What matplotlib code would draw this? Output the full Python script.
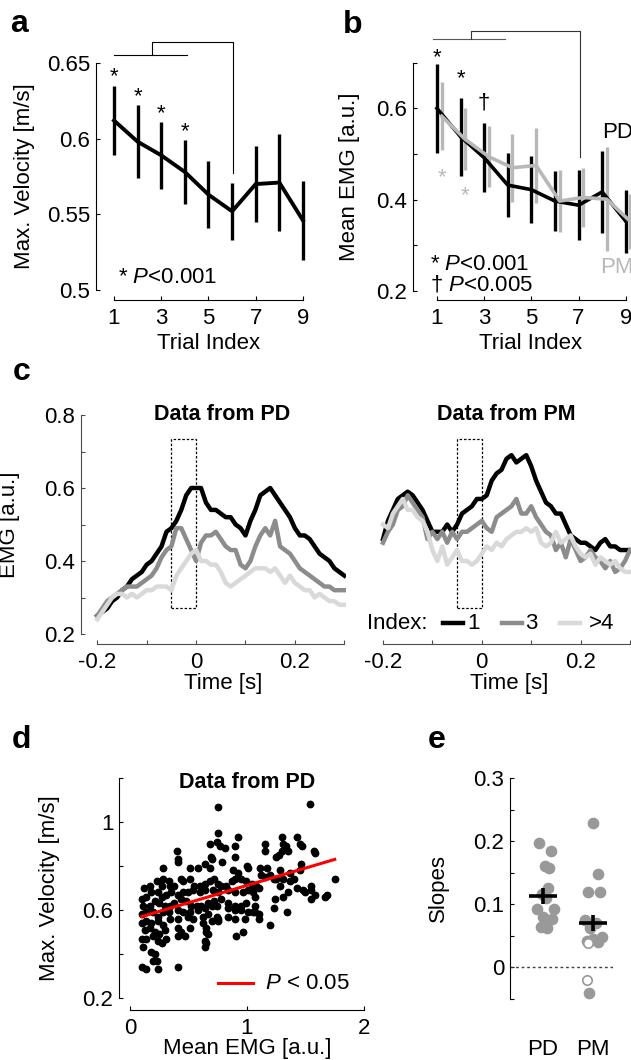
import matplotlib
matplotlib.use('Agg')
import matplotlib.pyplot as plt
import numpy as np
from matplotlib.patches import Rectangle

plt.rcParams['font.family'] = ['Liberation Sans', 'DejaVu Sans']
plt.rcParams['mathtext.fontset'] = 'custom'
plt.rcParams['mathtext.rm'] = 'Liberation Sans'
plt.rcParams['mathtext.it'] = 'Liberation Sans:italic'
plt.rcParams['font.size'] = 16
plt.rcParams['xtick.direction'] = 'in'
plt.rcParams['ytick.direction'] = 'in'
plt.rcParams['xtick.major.size'] = 3
plt.rcParams['ytick.major.size'] = 3
plt.rcParams['axes.linewidth'] = 0.8

# ---------------- data ----------------
trials = np.arange(1, 10)

# a: max velocity per trial
vel_mean = [0.612, 0.598, 0.589, 0.578, 0.563, 0.552, 0.570, 0.571, 0.546]
vel_err = [0.023, 0.024, 0.022, 0.021, 0.022, 0.019, 0.025, 0.032, 0.026]
vel_sig = [1, 2, 3, 4]

# b: mean EMG per trial
emg_pd_mean = [0.600, 0.538, 0.492, 0.432, 0.422, 0.397, 0.388, 0.417, 0.353]
emg_pd_err = [0.097, 0.085, 0.075, 0.070, 0.073, 0.066, 0.076, 0.089, 0.069]
emg_pm_mean = [0.583, 0.532, 0.494, 0.470, 0.475, 0.397, 0.405, 0.401, 0.352]
emg_pm_err = [0.074, 0.068, 0.067, 0.075, 0.083, 0.068, 0.064, 0.114, 0.060]
pd_marks = [(1, '*', 0.700), (2, '*', 0.652), (3, '\u2020', 0.600)]
pm_marks = [(1, '*', 0.436), (2, '*', 0.397)]

# c: EMG traces, time in s
t = np.linspace(-0.2, 0.3, 51)
pd_idx1 = [0.25, 0.26, 0.27, 0.29, 0.30, 0.32, 0.33, 0.35, 0.36, 0.37, 0.39, 0.40, 0.42,
           0.44, 0.48, 0.49, 0.51, 0.54, 0.58, 0.60, 0.60, 0.60, 0.56, 0.54, 0.54, 0.53,
           0.52, 0.52, 0.50, 0.49, 0.47, 0.51, 0.54, 0.58, 0.59, 0.60, 0.58, 0.56, 0.54,
           0.52, 0.49, 0.47, 0.47, 0.46, 0.44, 0.42, 0.41, 0.40, 0.38, 0.37, 0.36]
pd_idx3 = [0.25, 0.27, 0.29, 0.30, 0.31, 0.32, 0.33, 0.33, 0.33, 0.34, 0.35, 0.36, 0.38,
           0.41, 0.43, 0.44, 0.49, 0.49, 0.46, 0.43, 0.40, 0.45, 0.47, 0.47, 0.48, 0.46,
           0.44, 0.43, 0.43, 0.39, 0.38, 0.40, 0.44, 0.47, 0.49, 0.47, 0.51, 0.44, 0.43,
           0.42, 0.40, 0.38, 0.37, 0.36, 0.35, 0.34, 0.33, 0.33, 0.32, 0.32, 0.32]
pd_idx4 = [0.24, 0.26, 0.28, 0.30, 0.31, 0.31, 0.30, 0.31, 0.30, 0.31, 0.32, 0.32, 0.33,
           0.33, 0.33, 0.32, 0.36, 0.38, 0.40, 0.42, 0.43, 0.40, 0.40, 0.39, 0.39, 0.37,
           0.34, 0.33, 0.34, 0.35, 0.36, 0.37, 0.38, 0.38, 0.38, 0.37, 0.38, 0.36, 0.34,
           0.36, 0.34, 0.33, 0.32, 0.32, 0.30, 0.31, 0.30, 0.29, 0.29, 0.28, 0.28]
pm_idx1 = [0.46, 0.51, 0.54, 0.57, 0.58, 0.59, 0.58, 0.56, 0.54, 0.51, 0.48, 0.48, 0.48,
           0.50, 0.48, 0.50, 0.53, 0.54, 0.55, 0.57, 0.57, 0.58, 0.62, 0.64, 0.65, 0.68,
           0.69, 0.67, 0.68, 0.69, 0.66, 0.62, 0.59, 0.56, 0.55, 0.53, 0.53, 0.50, 0.47,
           0.46, 0.45, 0.45, 0.44, 0.43, 0.45, 0.46, 0.44, 0.44, 0.43, 0.43, 0.43]
pm_idx3 = [0.45, 0.48, 0.50, 0.54, 0.55, 0.58, 0.56, 0.54, 0.52, 0.46, 0.48, 0.46, 0.48,
           0.45, 0.48, 0.46, 0.48, 0.48, 0.49, 0.50, 0.51, 0.49, 0.48, 0.52, 0.53, 0.54,
           0.55, 0.57, 0.53, 0.53, 0.55, 0.52, 0.50, 0.48, 0.47, 0.43, 0.45, 0.41, 0.46,
           0.43, 0.40, 0.41, 0.43, 0.41, 0.40, 0.38, 0.40, 0.37, 0.38, 0.40, 0.43]
pm_idx4 = [0.50, 0.49, 0.53, 0.55, 0.57, 0.54, 0.54, 0.52, 0.51, 0.48, 0.43, 0.40, 0.44,
           0.39, 0.41, 0.43, 0.40, 0.40, 0.39, 0.40, 0.42, 0.44, 0.43, 0.45, 0.44, 0.46,
           0.47, 0.48, 0.48, 0.49, 0.48, 0.49, 0.45, 0.44, 0.45, 0.48, 0.45, 0.46, 0.47,
           0.44, 0.42, 0.41, 0.42, 0.39, 0.41, 0.40, 0.39, 0.40, 0.38, 0.37, 0.37]
win = (-0.05, 0.0, 0.27, 0.735)  # analysis window: t0, t1, v0, v1

# d: max velocity vs mean EMG (PD)
emg_x = [0.75, 0.75, 0.68, 0.74, 0.77, 0.81, 0.92, 0.90, 0.90, 0.40, 0.41, 0.41, 0.28, 0.51,
         0.58, 0.64, 0.68, 0.69, 0.70, 0.79, 0.88, 0.92, 1.00, 1.01,
         0.12, 0.17, 0.23, 0.28, 0.33, 0.27, 0.34, 0.38, 0.44, 0.45, 0.51, 0.55, 0.60, 0.64,
         0.68, 0.72, 0.75, 0.78, 0.82, 0.87, 0.90, 0.95, 0.99, 1.04, 1.08,
         0.10, 0.14, 0.18, 0.24, 0.27, 0.31, 0.35, 0.41, 0.45, 0.50, 0.54, 0.60, 0.64, 0.71,
         0.75, 0.84, 0.90, 0.97, 1.01, 1.05,
         0.11, 0.17, 0.21, 0.25, 0.30, 0.34, 0.38, 0.44, 0.48, 0.52, 0.57, 0.61, 0.67, 0.72,
         0.78, 0.84, 0.90, 0.95, 0.99, 1.07,
         0.10, 0.14, 0.20, 0.24, 0.28, 0.33, 0.41, 0.45, 0.51, 0.58, 0.64, 0.70, 0.74, 0.84,
         0.90, 0.95, 1.01, 1.07,
         0.10, 0.14, 0.18, 0.24, 0.28, 0.34, 0.41, 0.50, 0.54, 0.62, 0.67, 0.74, 0.75, 0.84,
         0.90, 0.98,
         0.13, 0.17, 0.21, 0.25, 0.30, 0.41, 0.44, 0.51, 0.62, 0.65, 0.70, 0.75,
         0.10, 0.14, 0.20, 0.24, 0.27, 0.31, 0.41, 0.47, 0.65, 0.67, 0.64, 0.65, 0.97, 0.91,
         0.11, 0.18, 0.21, 0.23, 0.20, 0.64, 0.10, 0.14, 0.24, 0.41,
         1.54, 1.30, 1.43, 1.15, 1.31, 1.33, 1.35, 1.30, 1.27, 1.45, 1.47, 1.15, 1.25, 1.57,
         1.58, 1.46, 1.45, 1.28, 1.11, 1.17, 1.12, 1.15, 1.20, 1.23, 1.25, 1.31, 1.37, 1.40,
         1.75, 1.05, 1.10, 1.28, 1.37, 1.43, 1.48, 1.55, 1.55, 1.58, 1.50, 1.68, 1.67, 1.55,
         1.31, 1.35, 1.24, 1.07, 1.23, 1.05, 1.10, 1.34, 1.10, 1.20]
vel_y = [1.07, 0.95, 0.90, 0.91, 0.89, 0.88, 0.93, 0.89, 0.84, 0.87, 0.83, 0.82, 0.79, 0.79,
         0.79, 0.81, 0.79, 0.84, 0.83, 0.82, 0.78, 0.77, 0.80, 0.79,
         0.70, 0.71, 0.73, 0.74, 0.73, 0.71, 0.71, 0.71, 0.74, 0.73, 0.74, 0.71, 0.71, 0.72,
         0.73, 0.74, 0.72, 0.71, 0.71, 0.73, 0.74, 0.74, 0.73, 0.72, 0.71,
         0.65, 0.66, 0.68, 0.68, 0.66, 0.67, 0.68, 0.67, 0.68, 0.68, 0.69, 0.68, 0.69, 0.69,
         0.68, 0.69, 0.68, 0.68, 0.69, 0.68,
         0.62, 0.62, 0.64, 0.63, 0.62, 0.62, 0.63, 0.65, 0.64, 0.62, 0.62, 0.62, 0.63, 0.64,
         0.65, 0.63, 0.62, 0.62, 0.63, 0.62,
         0.58, 0.59, 0.59, 0.57, 0.59, 0.59, 0.60, 0.59, 0.59, 0.60, 0.61, 0.62, 0.62, 0.61,
         0.60, 0.60, 0.59, 0.59,
         0.54, 0.55, 0.54, 0.55, 0.53, 0.56, 0.56, 0.57, 0.56, 0.57, 0.58, 0.57, 0.55, 0.57,
         0.56, 0.56,
         0.51, 0.52, 0.50, 0.49, 0.51, 0.52, 0.50, 0.52, 0.54, 0.52, 0.55, 0.56,
         0.47, 0.47, 0.48, 0.46, 0.45, 0.47, 0.48, 0.48, 0.50, 0.49, 0.46, 0.45, 0.50, 0.48,
         0.43, 0.41, 0.40, 0.37, 0.37, 0.43, 0.34, 0.33, 0.33, 0.34,
         1.08, 0.93, 0.93, 0.90, 0.90, 0.89, 0.87, 0.87, 0.85, 0.90, 0.89, 0.87, 0.84, 0.87,
         0.86, 0.81, 0.78, 0.78, 0.79, 0.79, 0.76, 0.75, 0.76, 0.74, 0.74, 0.74, 0.77, 0.74,
         0.74, 0.70, 0.70, 0.71, 0.73, 0.70, 0.69, 0.71, 0.69, 0.67, 0.68, 0.67, 0.66, 0.65,
         0.66, 0.68, 0.65, 0.66, 0.61, 0.59, 0.58, 0.59, 0.56, 0.53]
fit_x = [0.10, 1.75]
fit_y = [0.57, 0.83]

# e: slopes per subject
groups = ['PD', 'PM']
pd_slopes = [0.197, 0.185, 0.160, 0.158, 0.125, 0.116, 0.110, 0.093, 0.092, 0.080, 0.077,
             0.072, 0.064, 0.062]
pd_jit = [-0.09, 0.15, 0.04, 0.11, 0.09, -0.03, 0.05, -0.13, 0.21, 0.00, 0.17, 0.07, -0.04, 0.07]
pm_slopes = [0.229, 0.148, 0.120, 0.120, 0.075, 0.070, 0.062, 0.048, 0.045, 0.042, 0.040, -0.041]
pm_jit = [-0.01, 0.10, -0.10, 0.13, -0.17, 0.05, -0.07, 0.17, 0.00, -0.13, 0.10, -0.08]
pm_open = [0.038, -0.020]
pm_open_jit = [-0.10, -0.12]
slope_means = [0.113, 0.071]

# ---------------- figure ----------------
W, H = 631, 1060
fig = plt.figure(figsize=(W / 100, H / 100), dpi=100)


def add_ax(l, r, top, bot):
    return fig.add_axes([l / W, 1 - bot / H, (r - l) / W, (bot - top) / H])


def frame(ax, xb, yb, off, color='k'):
    ax.spines['top'].set_visible(False)
    ax.spines['right'].set_visible(False)
    ax.spines['bottom'].set_position(('outward', off * 0.72))
    if xb:
        ax.spines['bottom'].set_bounds(*xb)
    if yb:
        ax.spines['left'].set_bounds(*yb)
    for s in ('bottom', 'left'):
        ax.spines[s].set_color(color)
    ax.tick_params(color=color, pad=4)
    ax.tick_params(axis='x', pad=6)


def letter(x, y, s):
    fig.text(x / W, 1 - y / H, s, fontsize=23, fontweight='bold', ha='left', va='baseline')


gray_pm = '0.72'

# ---- a ----
axA = add_ax(96, 306.5, 63, 290)
axA.errorbar(trials, vel_mean, yerr=vel_err, color='k', lw=2.8, elinewidth=2.4, capsize=0)
axA.set_xlim(0.238, 9.15)
axA.set_ylim(0.5, 0.65)
frame(axA, (1, 9), (0.5, 0.65), 10)
axA.set_xticks([1, 3, 5, 7, 9])
axA.set_yticks([0.5, 0.55, 0.6, 0.65])
axA.set_yticklabels(['0.5', '0.55', '0.6', '0.65'])
for i in vel_sig:
    axA.text(i, vel_mean[i - 1] + vel_err[i - 1] + 0.002, '*', ha='center', va='baseline')
axA.plot([1, 4.1], [0.6553, 0.6553], color='k', lw=0.8, clip_on=False)
axA.plot([2.6, 2.6, 6.03, 6.03], [0.6553, 0.6639, 0.6639, 0.577], color='k', lw=0.8, clip_on=False)
axA.text(0.105, 0.057, '* $P$<0.001', transform=axA.transAxes, ha='left', va='center')
axA.set_ylabel('Max. Velocity [m/s]')
axA.yaxis.set_label_coords(-0.29, 0.5)
axA.set_xlabel('Trial Index')
axA.xaxis.set_label_coords(0.537, -0.19)
letter(10, 32, 'a')

# ---- b ----
axB = add_ax(413, 634, 62.75, 291)
axB.errorbar(trials, emg_pd_mean, yerr=emg_pd_err, color='k', lw=2.6, elinewidth=2.4, capsize=0)
axB.errorbar(trials + 0.2, emg_pm_mean, yerr=emg_pm_err, color=gray_pm, lw=2.6, elinewidth=2.4,
             capsize=0)
axB.set_xlim(-0.016, 9.35)
axB.set_ylim(0.2, 0.7)
frame(axB, (1, 9), (0.2, 0.7), 9)
axB.set_xticks([1, 3, 5, 7, 9])
axB.set_yticks([0.2, 0.3, 0.4, 0.5, 0.6, 0.7])
axB.set_yticklabels(['0.2', '', '0.4', '', '0.6', ''])
for i, s, y in pd_marks:
    axB.text(i, y, s, ha='center', va='baseline', color='k')
for i, s, y in pm_marks:
    axB.text(i + 0.2, y, s, ha='center', va='baseline', color=gray_pm)
axB.plot([0.85, 3.88], [0.752, 0.752], color='0.35', lw=0.8, clip_on=False)
axB.plot([2.44, 2.44, 7.08, 7.08], [0.752, 0.7705, 0.7705, 0.493], color='0.2', lw=0.8,
         clip_on=False)
axB.text(0.077, 0.114, '* $P$<0.001', transform=axB.transAxes, ha='left', va='center')
axB.text(0.077, 0.026, '\u2020 $P$<0.005', transform=axB.transAxes, ha='left', va='center')
axB.text(0.855, 0.693, 'PD', transform=axB.transAxes, ha='left', va='center', color='k')
axB.text(0.846, 0.105, 'PM', transform=axB.transAxes, ha='left', va='center', color=gray_pm)
axB.set_ylabel('Mean EMG [a.u.]')
axB.yaxis.set_label_coords(-0.24, 0.5)
axB.set_xlabel('Trial Index')
axB.xaxis.set_label_coords(0.534, -0.184)
letter(343, 33, 'b')

# ---- c ----
trace_cols = ['k', '0.55', '0.85']
axC1 = add_ax(81, 346.5, 415, 634)
axC2 = add_ax(366.7, 632.2, 415, 634)
for ax, traces, title, tx in [(axC1, (pd_idx1, pd_idx3, pd_idx4), 'Data from PD', 0.53),
                              (axC2, (pm_idx1, pm_idx3, pm_idx4), 'Data from PM', 0.525)]:
    for tr, c in zip(traces, trace_cols):
        ax.plot(t, tr, color=c, lw=3.2, solid_joinstyle='round')
    ax.add_patch(Rectangle((win[0], win[2]), win[1] - win[0], win[3] - win[2], fill=False,
                           ec='k', lw=0.9, ls=(0, (2, 1.5))))
    ax.set_xlim(-0.233, 0.3045)
    ax.set_ylim(0.2, 0.8)
    frame(ax, (-0.2, 0.3), (0.2, 0.8), 10, color='0.3')
    ax.set_xticks([-0.2, -0.1, 0, 0.1, 0.2, 0.3])
    ax.set_xticklabels(['-0.2', '', '0', '', '0.2', ''])
    ax.text(tx, 1.0, title, transform=ax.transAxes, ha='center', va='center',
            fontweight='bold', fontsize=15.5)
    ax.set_xlabel('Time [s]')
    ax.xaxis.set_label_coords(0.535, -0.178)
axC1.set_yticks([0.2, 0.3, 0.4, 0.5, 0.6, 0.7, 0.8])
axC1.set_yticklabels(['0.2', '', '0.4', '', '0.6', '', '0.8'])
axC1.set_ylabel('EMG [a.u.]')
axC1.yaxis.set_label_coords(-0.23, 0.5)
axC2.spines['left'].set_visible(False)
axC2.set_yticks([])
# legend
axC2.text(0.0, 0.05, 'Index:', transform=axC2.transAxes, ha='left', va='center')
for (x0, x1, tx), c, lab in zip([(0.287, 0.362, 0.38), (0.509, 0.584, 0.596),
                                 (0.727, 0.802, 0.838)], trace_cols, ['1', '3', '>4']):
    axC2.plot([x0, x1], [0.05, 0.05], color=c, lw=3.2, transform=axC2.transAxes, clip_on=False)
    axC2.text(tx, 0.05, lab, transform=axC2.transAxes, ha='left', va='center')
letter(13, 380, 'c')

# ---- d ----
axD = add_ax(119, 364, 778, 998)
axD.plot(emg_x, vel_y, 'o', color='k', ms=4.6, mec='k')
axD.plot(fit_x, fit_y, color='#ff0000', lw=2.2)
axD.set_xlim(-0.094, 2.0)
axD.set_ylim(0.2, 1.2)
frame(axD, (0, 2), (0.2, 1.2), 12)
axD.set_xticks([0, 1, 2])
axD.set_yticks([0.2, 0.4, 0.6, 0.8, 1.0, 1.2])
axD.set_yticklabels(['0.2', '', '0.6', '', '1', ''])
axD.text(0.522, 0.98, 'Data from PD', transform=axD.transAxes, ha='center', va='center',
         fontweight='bold', fontsize=15.5)
axD.plot([0.404, 0.547], [0.068, 0.068], color='#ff0000', lw=2.2, transform=axD.transAxes)
axD.text(0.596, 0.068, '$P$ < 0.05', transform=axD.transAxes, ha='left', va='center')
axD.set_ylabel('Max. Velocity [m/s]')
axD.yaxis.set_label_coords(-0.24, 0.5)
axD.set_xlabel('Mean EMG [a.u.]')
axD.xaxis.set_label_coords(0.522, -0.18)
letter(12, 748, 'd')

# ---- e ----
axE = add_ax(510, 613, 778, 999)
axE.axhline(0, color='0.25', lw=1.0, ls=(0, (2, 2)))
dot_col = '0.6'
axE.plot(1 + np.array(pd_jit), pd_slopes, 'o', color=dot_col, ms=7.4, mec=dot_col)
axE.plot(2 + np.array(pm_jit), pm_slopes, 'o', color=dot_col, ms=7.4, mec=dot_col)
axE.plot(2 + np.array(pm_open_jit), pm_open, 'o', mfc='white', ms=6.8, mec=dot_col, mew=1.2)
axE.plot([1, 2], slope_means, '_', color='k', ms=20, mew=2.6)
axE.plot([1, 2], slope_means, '|', color='k', ms=12, mew=2.6)
axE.set_xlim(0.34, 2.4)
axE.set_ylim(-0.05, 0.3)
frame(axE, None, (-0.05, 0.3), 0)
axE.spines['bottom'].set_visible(False)
axE.set_xticks([1, 2])
axE.set_xticklabels(groups)
axE.tick_params(axis='x', length=0, pad=29)
axE.set_yticks([-0.05, 0, 0.05, 0.1, 0.15, 0.2, 0.25, 0.3])
axE.set_yticklabels(['', '0', '', '0.1', '', '0.2', '', '0.3'])
axE.set_ylabel('Slopes')
axE.yaxis.set_label_coords(-0.59, 0.5)
letter(428, 748, 'e')

fig.savefig('out.png', dpi=100)
